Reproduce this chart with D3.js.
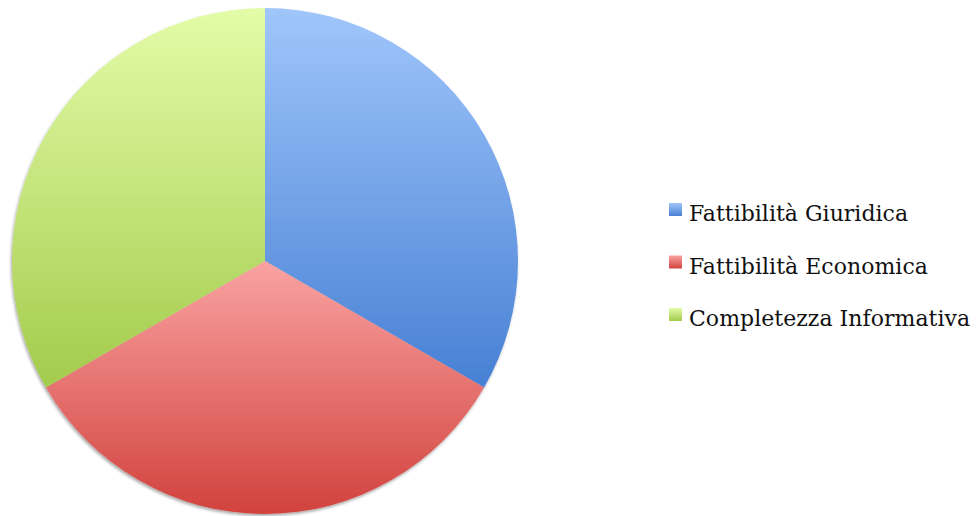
<!DOCTYPE html>
<html><head><meta charset="utf-8">
<script src="https://cdn.jsdelivr.net/npm/d3@7"></script>
<style>html,body{margin:0;padding:0;background:#fff;}svg{display:block;}</style>
</head><body>
<svg id="chart" width="979" height="516"></svg>
<script>
const categories = ["Fattibilità Giuridica", "Fattibilità Economica", "Completezza Informativa"];
const values = [1, 1, 1];
const labelWidths = [219, 239, 281];
const colorTop = ["#a0c6fb", "#f9a3a2", "#e3fca8"];
const colorBottom = ["#4780d4", "#d2423d", "#a3cb4c"];

const svg = d3.select("#chart");
const cx = 265, cy = 261, r = 253;
const defs = svg.append("defs");
categories.forEach((c, i) => {
  const g = defs.append("linearGradient").attr("id", "g" + i)
    .attr("x1", 0).attr("y1", 0).attr("x2", 0).attr("y2", 1);
  g.append("stop").attr("offset", "0%").attr("stop-color", colorTop[i]);
  g.append("stop").attr("offset", "100%").attr("stop-color", colorBottom[i]);
});
const f = defs.append("filter").attr("id", "sh").attr("x", "-10%").attr("y", "-10%").attr("width", "120%").attr("height", "120%");
f.append("feGaussianBlur").attr("in", "SourceAlpha").attr("stdDeviation", 1.5);
f.append("feOffset").attr("dx", -1).attr("dy", 1.5).attr("result", "b");
f.append("feComponentTransfer").append("feFuncA").attr("type", "linear").attr("slope", 0.35);
const m = f.append("feMerge"); m.append("feMergeNode"); m.append("feMergeNode").attr("in", "SourceGraphic");

const pie = d3.pie().sort(null).value(d => d);
const arc = d3.arc().innerRadius(0).outerRadius(r);
const g = svg.append("g").attr("transform", `translate(${cx},${cy})`).attr("filter", "url(#sh)");
g.selectAll("path").data(pie(values)).join("path")
  .attr("d", arc).attr("fill", (d, i) => `url(#g${i})`);

const leg = svg.append("g").attr("transform", "translate(669,203)");
const items = leg.selectAll("g").data(categories).join("g")
  .attr("transform", (d, i) => `translate(0,${i * 52.5})`);
items.append("rect").attr("width", 13).attr("height", 13)
  .attr("fill", (d, i) => `url(#g${i})`);
items.append("text").attr("x", 20).attr("y", 18)
  .attr("font-family", "DejaVu Serif, serif").attr("font-size", 22)
  .attr("fill", "#111").text(d => d)
  .each(function(d, i) {
    const natural = this.getComputedTextLength();
    const ls = (labelWidths[i] - natural) / d.length;
    d3.select(this).attr("letter-spacing", ls.toFixed(2));
  });
</script>
</body></html>
